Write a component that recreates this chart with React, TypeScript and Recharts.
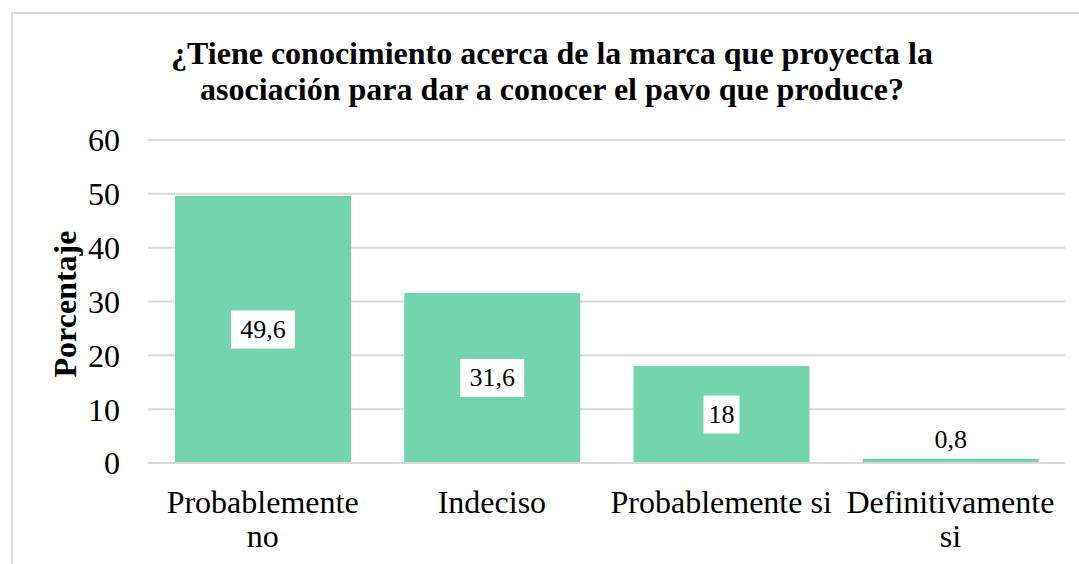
import { BarChart, Bar, XAxis, YAxis, CartesianGrid, LabelList } from 'recharts';

const categories = ['Probablemente no', 'Indeciso', 'Probablemente si', 'Definitivamente si'];
const percentages = [49.6, 31.6, 18, 0.8];
const yTicks = [0, 10, 20, 30, 40, 50, 60];

const titleLines = [
    '¿Tiene conocimiento acerca de la marca que proyecta la',
    'asociación para dar a conocer el pavo que produce?'
];

const data = categories.map((name, i) => ({ name, value: percentages[i] }));

const FONT = '"Liberation Serif", "Times New Roman", serif';
const BAR = '#75D4B0';

const fmt = (v: number) => String(v).replace('.', ',');

let ctx: CanvasRenderingContext2D | null = null;
function textWidth(s: string, size: number) {
    if (!ctx) ctx = document.createElement('canvas').getContext('2d');
    if (!ctx) return s.length * size * 0.45;
    ctx.font = `${size}px ${FONT}`;
    return ctx.measureText(s).width;
}

// greedy word wrap to fit a category band
function wrap(s: string, size: number, maxW: number) {
    const lines: string[] = [];
    let cur = '';
    for (const w of s.split(' ')) {
        const next = cur ? cur + ' ' + w : w;
        if (cur && textWidth(next, size) > maxW) {
            lines.push(cur);
            cur = w;
        } else {
            cur = next;
        }
    }
    if (cur) lines.push(cur);
    return lines;
}

function CategoryTick(props: any) {
    const { x, y, payload } = props;
    const lines = wrap(String(payload.value), 32, 224);
    return (
        <text x={x} y={y} textAnchor="middle" fontFamily={FONT} fontSize={32} fill="#000">
            {lines.map((l, i) => (
                <tspan key={i} x={x} dy={i === 0 ? 23 : 34}>{l}</tspan>
            ))}
        </text>
    );
}

function ValueLabel(props: any) {
    const { x, y, width, height, value } = props;
    const cx = x + width / 2;
    if (value < 5) {
        return (
            <text x={cx} y={y - 19} textAnchor="middle" dominantBaseline="central"
                fontFamily={FONT} fontSize={26} fill="#000">
                {fmt(value)}
            </text>
        );
    }
    const cy = y + height / 2;
    const w = 14 * fmt(value).length + 8;
    return (
        <g>
            <rect x={cx - w / 2} y={cy - 19} width={w} height={38} fill="#fff" />
            <text x={cx} y={cy} textAnchor="middle" dominantBaseline="central"
                fontFamily={FONT} fontSize={26} fill="#000">
                {fmt(value)}
            </text>
        </g>
    );
}

export default function App() {
    return (
        <div style={{ position: 'absolute', left: 0, top: 0, width: 1079, height: 564, background: '#fff', overflow: 'hidden' }}>
            <div style={{ position: 'absolute', left: 11, top: 12, width: 1100, height: 600, border: '2px solid #D9D9D9', boxSizing: 'border-box' }} />
            <div style={{
                position: 'absolute', left: 0, top: 35, width: 1104, textAlign: 'center',
                fontFamily: FONT, fontWeight: 'bold', fontSize: 32, lineHeight: '36px', color: '#000'
            }}>
                {titleLines.map((l) => <div key={l}>{l}</div>)}
            </div>
            <div style={{ position: 'absolute', left: 0, top: 0 }}>
                <BarChart width={1079} height={564} data={data}
                    margin={{ top: 140, right: 14, bottom: 0, left: 0 }}>
                    <CartesianGrid vertical={false} stroke="#D9D9D9" strokeWidth={2} />
                    <XAxis
                        dataKey="name"
                        axisLine={{ stroke: '#D9D9D9', strokeWidth: 2 }}
                        tickLine={false}
                        tickSize={0}
                        tickMargin={27}
                        height={101}
                        interval={0}
                        tick={<CategoryTick />}
                    />
                    <YAxis
                        domain={[0, 60]}
                        ticks={yTicks}
                        width={148}
                        axisLine={false}
                        tickLine={false}
                        tickSize={0}
                        tickMargin={28}
                        tick={{ fill: '#000', fontSize: 32, fontFamily: FONT }}
                        label={{
                            value: 'Porcentaje',
                            content: () => (
                                <text x={65} y={304} transform="rotate(-90 65 304)" textAnchor="middle"
                                    dominantBaseline="central" fontFamily={FONT} fontWeight="bold" fontSize={32} fill="#000">
                                    Porcentaje
                                </text>
                            )
                        }}
                    />
                    <Bar dataKey="value" fill={BAR} barSize={176} isAnimationActive={false}>
                        <LabelList dataKey="value" content={<ValueLabel />} />
                    </Bar>
                </BarChart>
            </div>
        </div>
    );
}
